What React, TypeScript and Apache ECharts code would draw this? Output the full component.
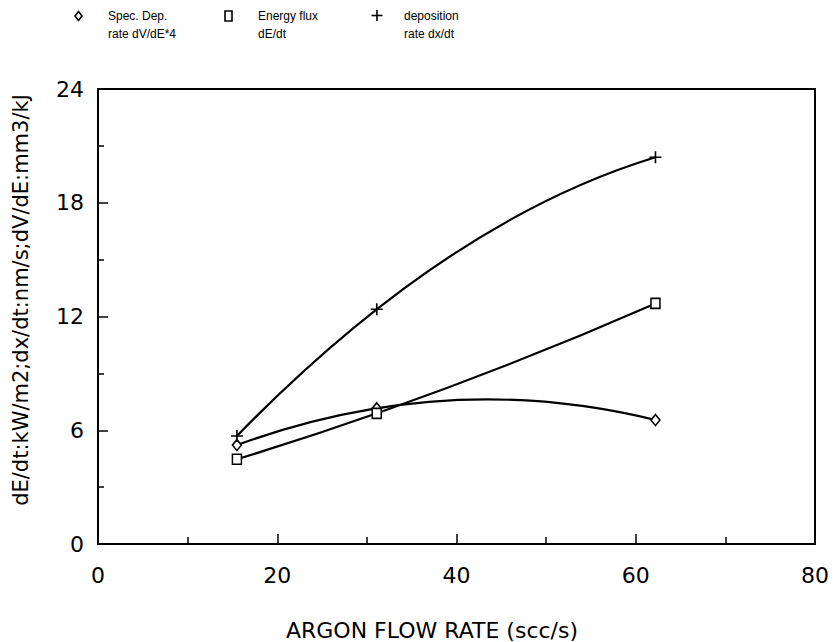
import React, { useEffect, useRef } from "react";
import * as echarts from "echarts";

// Argon flow rate (scc/s)
const flowRates = [15.5, 31.1, 62.2];
// Spec. Dep. rate dV/dE*4
const specDepRate = [5.22, 7.16, 6.54];
// Energy flux dE/dt
const energyFlux = [4.47, 6.89, 12.69];
// deposition rate dx/dt
const depositionRate = [5.7, 12.38, 20.4];

const xTickLabels = [0, 20, 40, 60, 80];
const yTickLabels = [0, 6, 12, 18, 24];

const legendNames = [
  ["Spec. Dep.", "rate dV/dE*4"],
  ["Energy flux", "dE/dt"],
  ["deposition", "rate dx/dt"],
];

const FONT = "DejaVu Sans";
const PLUS = "path://M0,6L12,6M6,0L6,12";

function curveSeries(name: string, ys: number[]) {
  return {
    type: "custom",
    name: name + " curve",
    data: flowRates.map((x, i) => [x, ys[i]]),
    encode: { x: 0, y: 1 },
    silent: true,
    z: 2,
    renderItem: (params: any, api: any) => {
      if (params.dataIndex !== 0) return { type: "group", children: [] };
      const p = flowRates.map((x, i) => api.coord([x, ys[i]]));
      const [x0, y0] = p[0];
      const [x1, y1] = p[1];
      const [x2, y2] = p[2];
      const f01 = (y1 - y0) / (x1 - x0);
      const f12 = (y2 - y1) / (x2 - x1);
      const f012 = (f12 - f01) / (x2 - x0);
      const slope0 = f01 + f012 * (x0 - x1);
      const cx = (x0 + x2) / 2;
      const cy = y0 + slope0 * (cx - x0);
      return {
        type: "bezierCurve",
        shape: { x1: x0, y1: y0, x2: x2, y2: y2, cpx1: cx, cpy1: cy },
        style: { stroke: "#000", lineWidth: 2.2, fill: "none" },
      };
    },
  };
}

function markerSeries(name: string, ys: number[], symbol: string, size: any, fill: string) {
  return {
    type: "scatter",
    name,
    data: flowRates.map((x, i) => [x, ys[i]]),
    symbol,
    symbolSize: size,
    z: 5,
    itemStyle: { color: fill, borderColor: "#000", borderWidth: 1.6, opacity: 1 },
  };
}

export default function App() {
  const ref = useRef<HTMLDivElement>(null);
  useEffect(() => {
    if (!ref.current) return;
    const chart = echarts.init(ref.current, null, { renderer: "svg" });
    const legendText = (x: number, lines: string[]) => ({
      type: "text",
      x,
      y: 7,
      style: {
        text: lines.join("\n"),
        font: "12px 'Liberation Sans'",
        lineHeight: 18,
        fill: "#000",
      },
    });
    chart.setOption({
      animation: false,
      backgroundColor: "#fff",
      grid: {
        left: 98,
        top: 89,
        width: 717,
        height: 455,
        show: true,
        borderColor: "#000",
        borderWidth: 2,
      },
      xAxis: {
        type: "value",
        min: 0,
        max: 80,
        interval: 20,
        axisLine: { show: true, lineStyle: { color: "#000", width: 2 } },
        axisTick: { show: true, inside: true, length: 10, lineStyle: { color: "#000", width: 1.5 } },
        minorTick: { show: true, splitNumber: 2, length: 7, lineStyle: { color: "#000", width: 1.5 } },
        splitLine: { show: false },
        axisLabel: {
          margin: 20,
          color: "#000",
          fontFamily: FONT,
          fontSize: 22,
          formatter: (v: number) => (xTickLabels.includes(v) ? String(v) : ""),
        },
      },
      yAxis: {
        type: "value",
        min: 0,
        max: 24,
        interval: 6,
        axisLine: { show: true, lineStyle: { color: "#000", width: 2 } },
        axisTick: { show: true, inside: true, length: 10, lineStyle: { color: "#000", width: 1.5 } },
        minorTick: { show: true, splitNumber: 2, length: 6, lineStyle: { color: "#000", width: 1.5 } },
        splitLine: { show: false },
        axisLabel: {
          margin: 14,
          color: "#000",
          fontFamily: FONT,
          fontSize: 22,
          formatter: (v: number) => (yTickLabels.includes(v) ? String(v) : ""),
        },
      },
      graphic: [
        {
          type: "text",
          x: 432,
          y: 630,
          style: {
            text: "ARGON FLOW RATE (scc/s)",
            font: `22px '${FONT}'`,
            fill: "#000",
            align: "center",
            verticalAlign: "middle",
          },
        },
        {
          type: "text",
          x: 21,
          y: 300,
          rotation: Math.PI / 2,
          style: {
            text: "dE/dt:kW/m2;dx/dt:nm/s;dV/dE:mm3/kJ",
            font: `21px '${FONT}'`,
            fill: "#000",
            align: "center",
            verticalAlign: "middle",
          },
        },
        {
          type: "polygon",
          shape: { points: [[78.5, 11.5], [82, 16], [78.5, 20.5], [75, 16]] },
          style: { fill: "#fff", stroke: "#000", lineWidth: 1.6 },
        },
        legendText(108, legendNames[0]),
        {
          type: "rect",
          shape: { x: 225, y: 11, width: 7, height: 10 },
          style: { fill: "#fff", stroke: "#000", lineWidth: 1.6 },
        },
        legendText(258, legendNames[1]),
        {
          type: "line",
          shape: { x1: 371.5, y1: 15.5, x2: 382.5, y2: 15.5 },
          style: { stroke: "#000", lineWidth: 1.6 },
        },
        {
          type: "line",
          shape: { x1: 377, y1: 10, x2: 377, y2: 21 },
          style: { stroke: "#000", lineWidth: 1.6 },
        },
        legendText(404, legendNames[2]),
      ],
      series: [
        curveSeries("Spec. Dep. rate dV/dE*4", specDepRate),
        curveSeries("Energy flux dE/dt", energyFlux),
        curveSeries("deposition rate dx/dt", depositionRate),
        markerSeries("Spec. Dep. rate dV/dE*4", specDepRate, "diamond", [9, 11], "#fff"),
        markerSeries("Energy flux dE/dt", energyFlux, "rect", [9, 10], "#fff"),
        markerSeries("deposition rate dx/dt", depositionRate, PLUS, 12, "none"),
      ],
    });
    return () => chart.dispose();
  }, []);
  return (
    <div
      ref={ref}
      style={{ position: "absolute", left: 0, top: 0, width: 837, height: 642 }}
    />
  );
}
